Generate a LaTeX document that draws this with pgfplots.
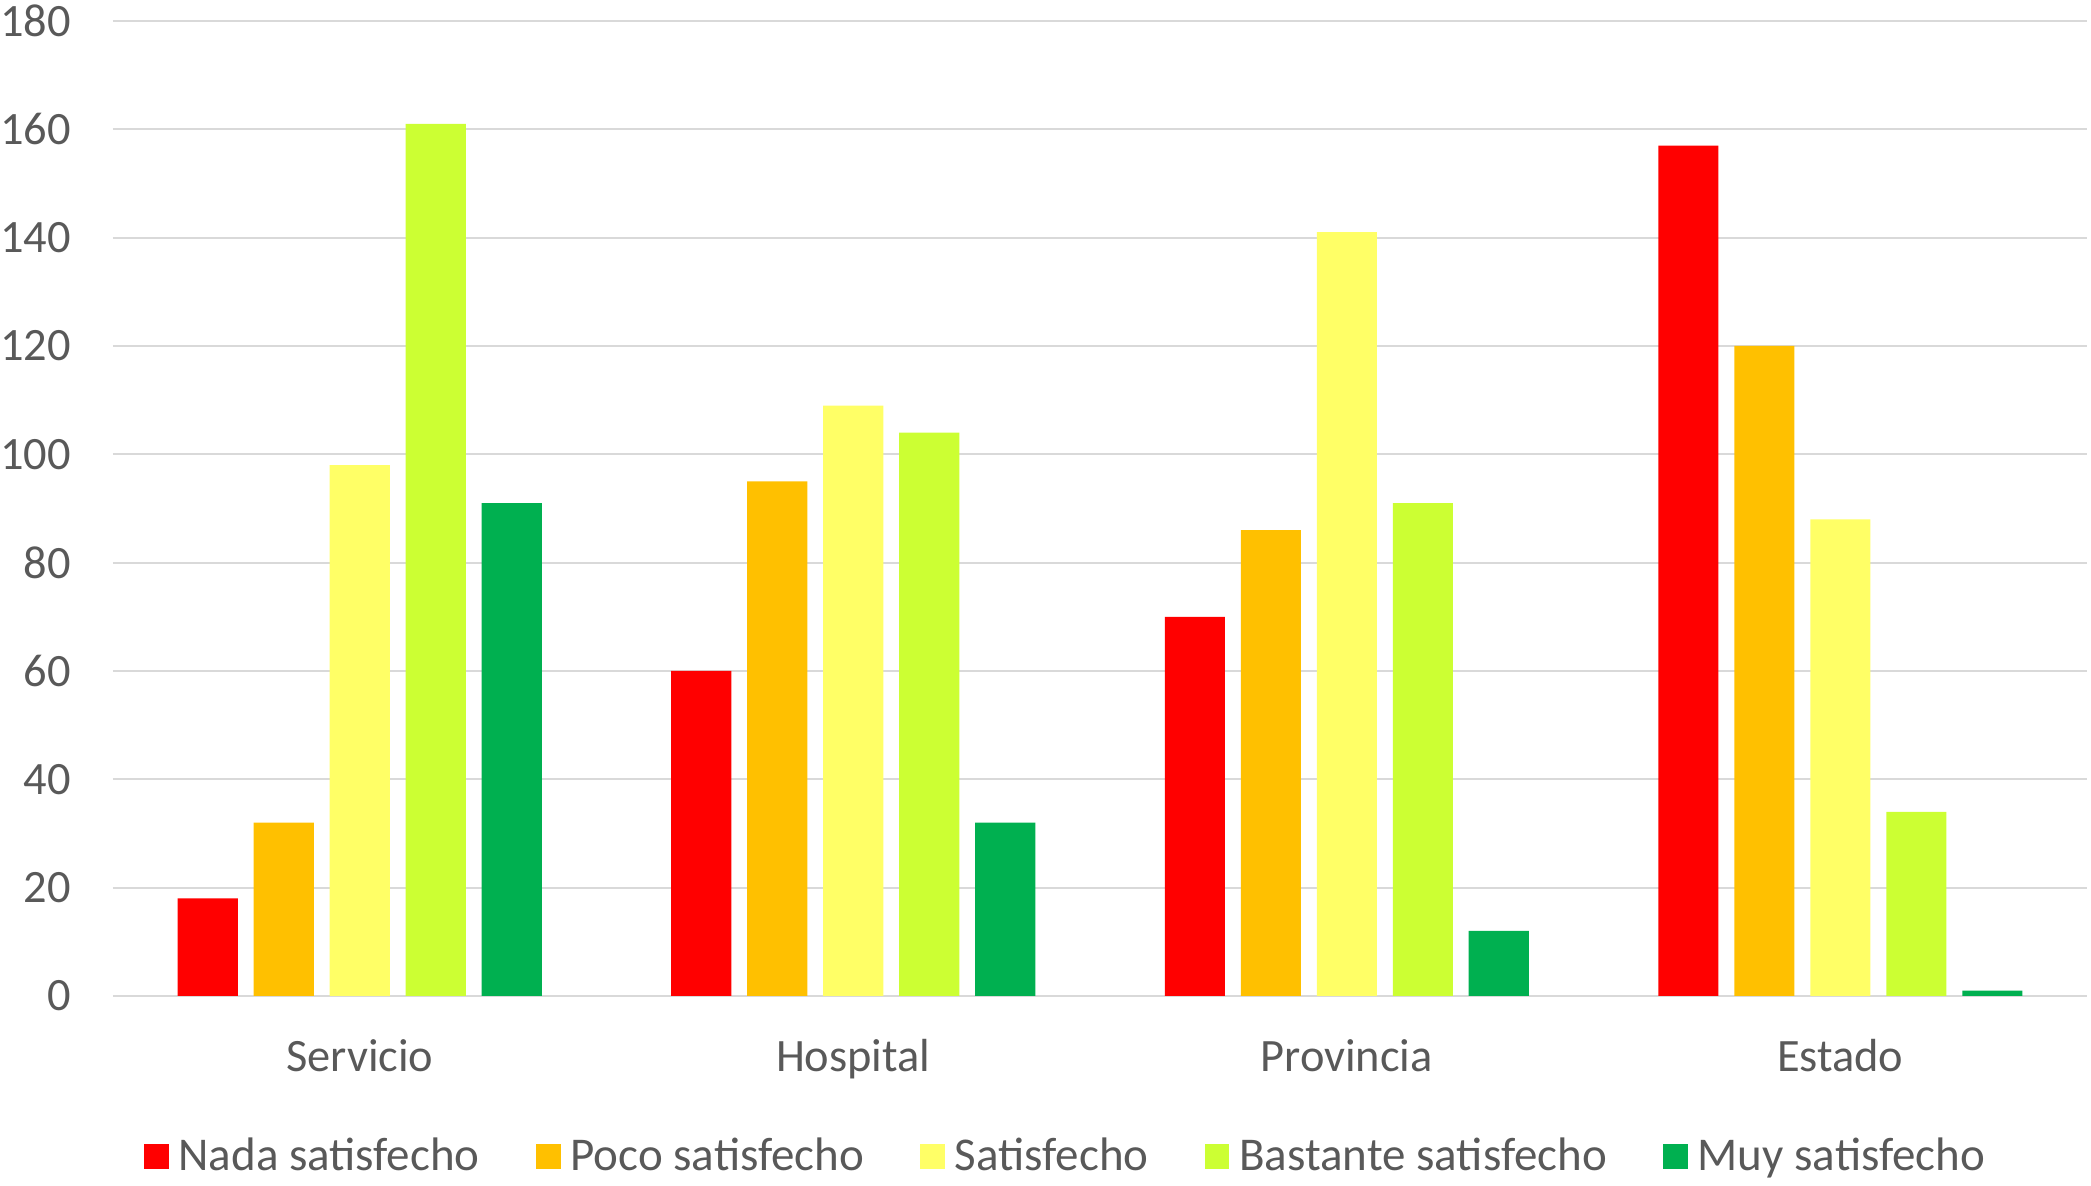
\documentclass[border=0pt]{standalone}
\usepackage{pgfplots}
\pgfplotsset{compat=1.18}
\usepackage{fontspec}
\setmainfont{Carlito}

\definecolor{txtgray}{HTML}{595959}
\definecolor{gridgray}{HTML}{D9D9D9}
\definecolor{cNada}{HTML}{FF0000}
\definecolor{cPoco}{HTML}{FFC000}
\definecolor{cSat}{HTML}{FFFF66}
\definecolor{cBast}{HTML}{CCFF33}
\definecolor{cMuy}{HTML}{00B050}

\begin{document}
\begin{tikzpicture}
\path[use as bounding box] (-28.25pt,-47.5pt) rectangle (494.5pt,249pt);
\begin{axis}[
  at={(0,0)}, anchor=south west,
  scale only axis,
  width=493.5pt, height=243.75pt,
  ybar,
  bar width=0.1216,
  xmin=-0.5, xmax=3.5,
  ymin=0, ymax=180,
  ytick={0,20,...,180},
  xtick={0,1,2,3},
  xticklabels={Servicio,Hospital,Provincia,Estado},
  major tick length=0pt,
  axis line style={draw=none},
  ymajorgrids,
  grid style={gridgray, line width=0.55pt},
  tick label style={font=\fontsize{11.6}{13.9}\selectfont, text=txtgray},
  /pgf/number format/assume math mode=true,
  yticklabel style={xshift=-7pt},
  xticklabel style={yshift=-7.3pt},
  legend columns=5,
  legend style={at={(0.484,-0.165)}, anchor=center, draw=none, fill=none,
    font=\fontsize{11.75}{14}\selectfont, text=txtgray,
    /tikz/every even column/.append style={column sep=12pt}},
  legend image code/.code={\fill[#1,draw=none] (0pt,-3.1pt) rectangle (6.2pt,3.1pt);},
  /tikz/every odd column/.append style={column sep=0.5pt},
]
\addplot[fill=cNada, draw=none, bar shift=-0.308] coordinates {(0,18) (1,60) (2,70) (3,157)};
\addlegendentry{Nada satisfecho}
\addplot[fill=cPoco, draw=none, bar shift=-0.154] coordinates {(0,32) (1,95) (2,86) (3,120)};
\addlegendentry{Poco satisfecho}
\addplot[fill=cSat, draw=none, bar shift=0] coordinates {(0,98) (1,109) (2,141) (3,88)};
\addlegendentry{Satisfecho}
\addplot[fill=cBast, draw=none, bar shift=0.154] coordinates {(0,161) (1,104) (2,91) (3,34)};
\addlegendentry{Bastante satisfecho}
\addplot[fill=cMuy, draw=none, bar shift=0.308] coordinates {(0,91) (1,32) (2,12) (3,1)};
\addlegendentry{Muy satisfecho}
\end{axis}
\end{tikzpicture}
\end{document}
